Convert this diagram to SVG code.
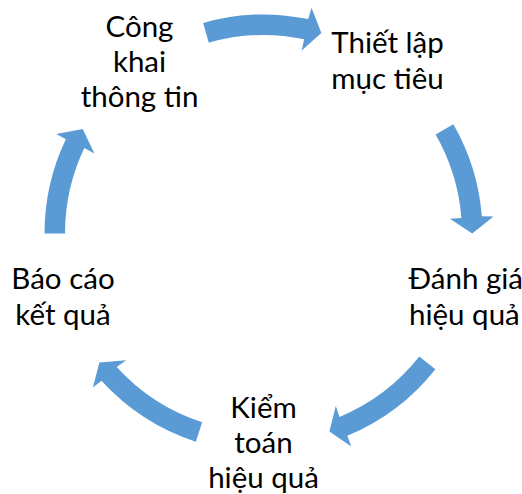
<svg xmlns="http://www.w3.org/2000/svg" width="522" height="494" viewBox="0 0 522 494">
<style>
.arr{fill:#5B9BD5;stroke:none}
.lbl{font-family:Lato,"Liberation Sans",sans-serif;font-size:29.5px;fill:#000;text-anchor:middle}
.lbs{font-family:Lato,"Liberation Sans",sans-serif;font-size:29.5px;fill:#000;text-anchor:start}
</style>
<rect width="522" height="494" fill="#fff"/>
<g id="connectors">
<path class="arr" d="M203.14,22.98 A219,219 0 0 1 308.29,19.12 L311.5,7.8 L321.39,32.93 L301.74,50.45 L304.09,39.19 A198.5,198.5 0 0 0 208.79,42.68 Z"/>
<path class="arr" d="M453.35,124.33 A219,219 0 0 1 481.83,216.32 L493.5,216.5 L472.25,233.5 L449.92,218.83 L461.39,217.93 A198.5,198.5 0 0 0 435.58,134.55 Z"/>
<path class="arr" d="M435.37,369.24 A219,219 0 0 1 347.31,435.83 L351.2,446.4 L329.39,431.58 L335.8,406.1 L339.46,416.89 A198.5,198.5 0 0 0 419.28,356.53 Z"/>
<path class="arr" d="M195.83,441.78 A219,219 0 0 1 101.50,380.87 L92.9,387.5 L99.41,362.54 L126.3,360.2 L116.67,367.08 A198.5,198.5 0 0 0 202.16,422.29 Z"/>
<path class="arr" d="M44.5,233.5 A219,219 0 0 1 65.83,139.22 L56.3,133.9 L82.72,129.12 L94.4,153.6 L84.34,148.04 A198.5,198.5 0 0 0 65,233.5 Z"/>
</g>
<g id="node-cong-khai">
<text class="lbl" x="139.5" y="37">Công</text>
<text class="lbl" x="139.5" y="72">khai</text>
<text class="lbl" x="139.5" y="107">thông tin</text>
</g>
<g id="node-thiet-lap">
<text class="lbl" x="387.5" y="53">Thiết lập</text>
<text class="lbl" x="387.5" y="89">mục tiêu</text>
</g>
<g id="node-danh-gia">
<text class="lbs" x="408.5" y="289">Đánh giá</text>
<text class="lbs" x="409" y="325">hiệu quả</text>
</g>
<g id="node-kiem-toan">
<text class="lbl" x="263.5" y="418">Kiểm</text>
<text class="lbl" x="263.5" y="453">toán</text>
<text class="lbl" x="263.5" y="488">hiệu quả</text>
</g>
<g id="node-bao-cao">
<text class="lbl" x="63" y="289">Báo cáo</text>
<text class="lbl" x="63" y="325">kết quả</text>
</g>
</svg>
